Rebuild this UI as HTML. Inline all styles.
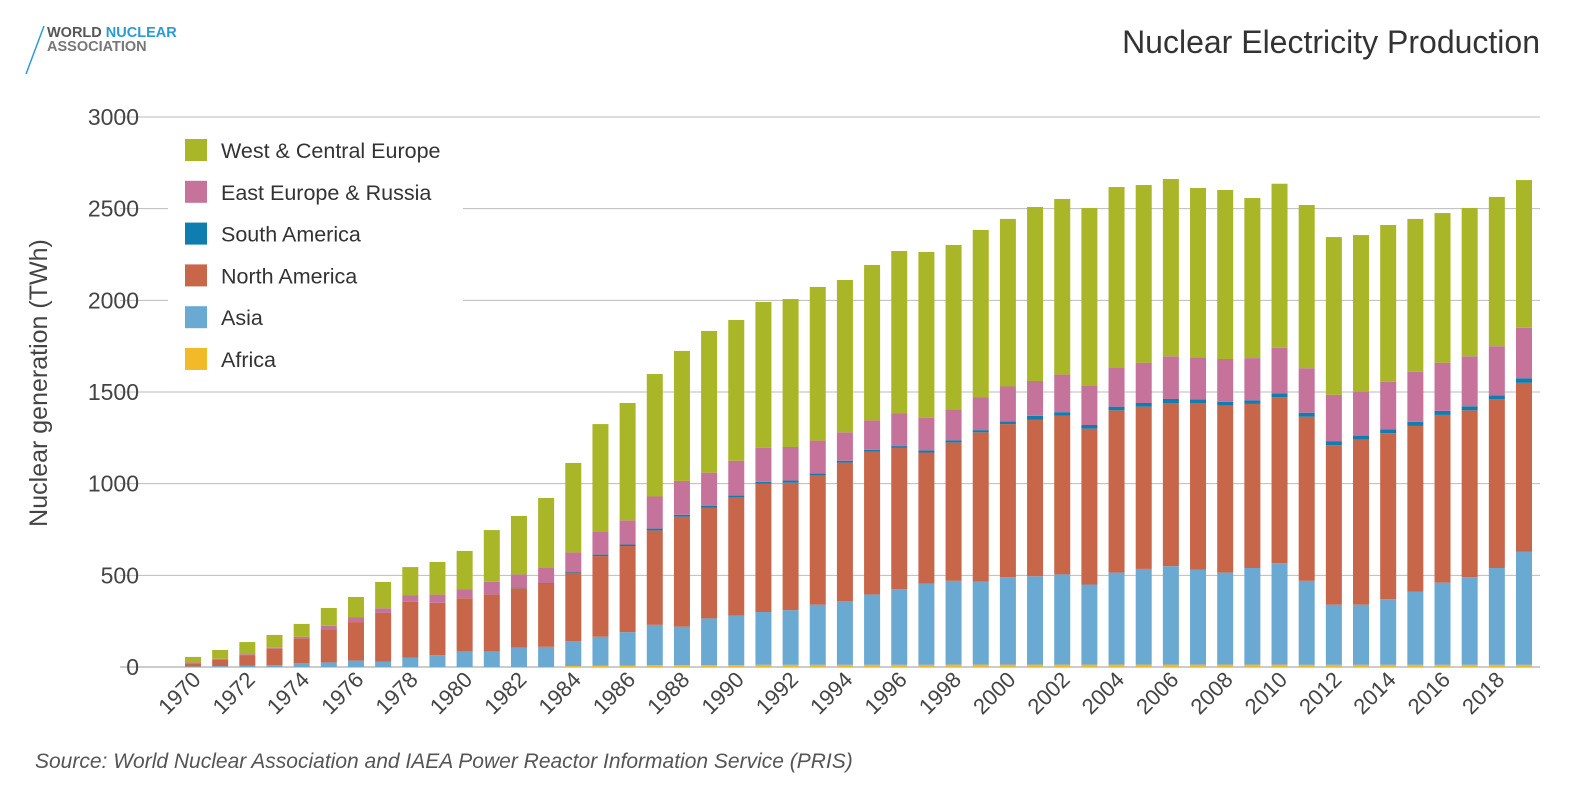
<!DOCTYPE html>
<html><head><meta charset="utf-8"><style>
body{margin:0;background:#fff;width:1595px;height:802px;overflow:hidden;font-family:"Liberation Sans",sans-serif}
</style></head><body>
<svg width="1595" height="802" xmlns="http://www.w3.org/2000/svg">
<g>
<line x1="26" y1="74" x2="44" y2="26" stroke="#2a9ad6" stroke-width="1.5"/>
<text x="47" y="37" font-size="14.5" font-weight="bold" fill="#555">WORLD <tspan fill="#2a9ad6">NUCLEAR</tspan></text>
<text x="47" y="51" font-size="14.5" font-weight="bold" fill="#777">ASSOCIATION</text>
</g>
<text x="1540" y="53" text-anchor="end" font-size="32" fill="#333">Nuclear Electricity Production</text>
<g id="grid"></g>
<g id="bars"></g>
<g id="xlabels"></g>
<text transform="translate(47,383) rotate(-90)" text-anchor="middle" font-size="25" fill="#444">Nuclear generation (TWh)</text>
<g id="legend"></g>
<text x="35" y="768" font-size="21" font-style="italic" fill="#555">Source: World Nuclear Association and IAEA Power Reactor Information Service (PRIS)</text>
</svg>
<script>
const years=[];for(let y=1970;y<=2019;y++)years.push(y);
const yTicks=[0,500,1000,1500,2000,2500,3000];
const africa=[0,0,0,0,0,0,0,0,0,0,0,0,0,0,5,8,8,10,10,10,10,12,12,12,12,12,12,12,13,13,13,13,13,13,13,13,13,13,13,13,13,12,12,12,12,12,12,12,12,12];
const asia=[3,5,8,10,20,25,35,30,50,65,85,85,105,110,135,157,182,220,210,255,270,288,298,328,348,383,413,443,457,452,477,482,492,437,502,522,537,517,502,527,553,458,328,328,358,398,448,478,528,618];
const northAmerica=[17,35,57,90,135,180,210,265,305,285,290,310,325,345,375,440,470,515,600,605,645,700,695,705,755,780,770,715,755,815,835,855,865,850,885,885,890,910,910,895,905,895,870,900,905,905,915,910,920,920];
const southAmerica=[0,0,0,0,0,0,0,0,0,0,0,0,3,3,5,8,8,10,10,10,10,10,12,10,10,10,10,12,12,12,15,20,20,20,20,20,22,20,22,20,22,22,22,22,22,22,22,22,22,25];
const eastEurope=[5,5,5,5,10,20,25,25,35,45,50,70,72,82,105,127,132,175,185,180,190,185,183,180,155,160,180,178,168,178,190,190,205,215,215,220,233,230,233,230,248,243,253,238,258,273,263,273,268,275];
const westEurope=[30,48,66,70,70,97,112,144,155,178,208,282,319,382,488,585,640,668,709,773,768,796,807,838,831,848,884,904,897,914,914,949,958,969,983,969,967,923,922,873,895,890,860,856,856,834,816,809,814,806];
const seriesNames=["Africa","Asia","North America","South America","East Europe & Russia","West & Central Europe"];
const seriesData=[africa,asia,northAmerica,southAmerica,eastEurope,westEurope];
const colors=["#f2b928","#6aa9d2","#c8664a","#0f7db0","#c5739b","#a9b627"];
const NS="http://www.w3.org/2000/svg";
const y0=667,yTop=117,maxV=3000;
const yS=v=>y0-(v/maxV)*(y0-yTop);
const x0=193,step=(1524-193)/49,bw=16;
const xS=i=>x0+i*step;
function mk(t,a,p){const e=document.createElementNS(NS,t);for(const k in a)e.setAttribute(k,a[k]);p.appendChild(e);return e;}
const grid=document.getElementById('grid');
yTicks.forEach(v=>{
 const l=mk('line',{x1:120,x2:1540,y1:yS(v),y2:yS(v),stroke:v===0?'#999':'#bbb','stroke-width':1},grid);
 
 
 const t=mk('text',{x:139,y:yS(v)+8,'text-anchor':'end','font-size':23,fill:'#444'},grid);
 t.textContent=v;
 
 
});
const bars=document.getElementById('bars');
years.forEach((yr,i)=>{
 let cum=0;
 seriesData.forEach((s,k)=>{
  const v=s[i];if(v<=0)return;
  const r=mk('rect',{x:xS(i)-bw/2,y:yS(cum+v),width:bw,height:yS(cum)-yS(cum+v),fill:colors[k]},bars);
  
  
  cum+=v;
 });
});
const xl=document.getElementById('xlabels');
years.forEach((yr,i)=>{
 if(yr%2)return;
 const x=xS(i)+9,y=681;
 const t=mk('text',{x:x,y:y,'text-anchor':'end','font-size':22,fill:'#444',transform:`rotate(-45 ${x} ${y})`},xl);
 t.textContent=yr;
 
 
});
const lg=document.getElementById('legend');
const bg=mk('rect',{x:168,y:128,width:295,height:252,fill:'#fff'},lg);


for(let j=0;j<6;j++){
 const k=5-j,yy=150+j*41.8;
 const r=mk('rect',{x:185,y:yy-11,width:22,height:22,fill:colors[k]},lg);
 
 
 const t=mk('text',{x:221,y:yy+8,'font-size':21.5,fill:'#333'},lg);
 t.textContent=seriesNames[k];
 
 
}
</script>
</body></html>
